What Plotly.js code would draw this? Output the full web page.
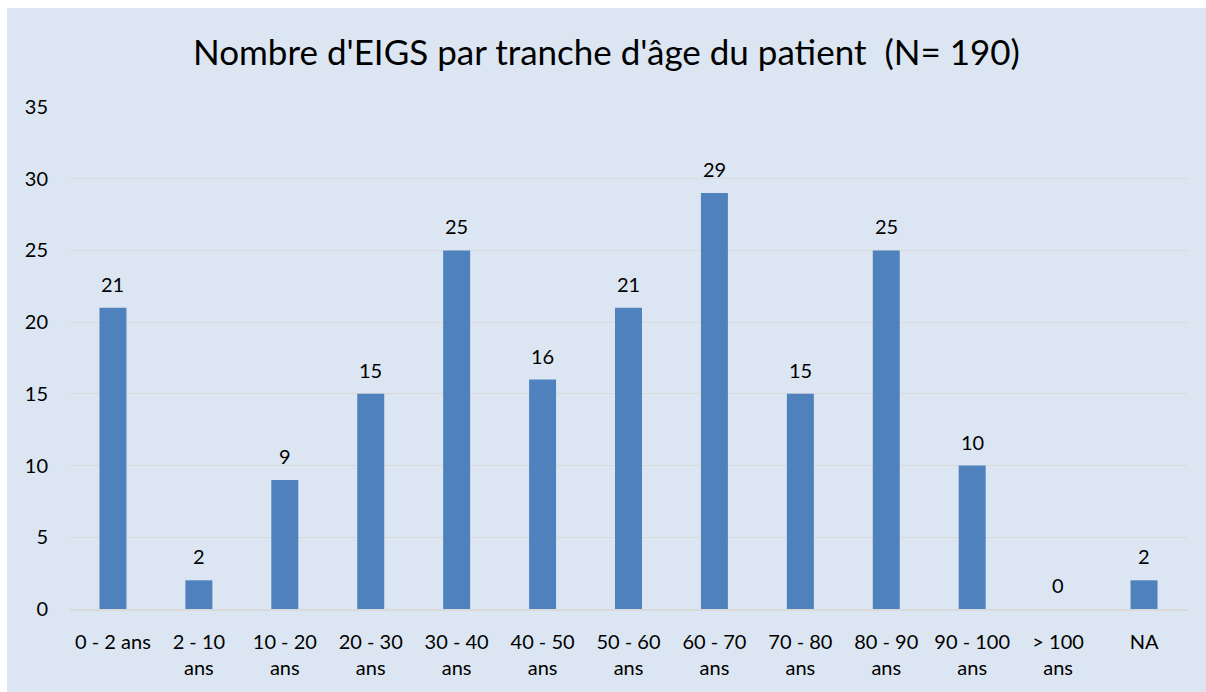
<!DOCTYPE html>
<html><head><meta charset="utf-8">
<script src="https://cdn.plot.ly/plotly-3.0.1.min.js"></script>
<style>
html,body{margin:0;padding:0;background:#fff;}
#chart{position:absolute;left:7px;top:8px;width:1199px;height:684px;}
</style></head>
<body><div id="chart"></div>
<script>
const categories = ["0 - 2 ans","2 - 10 ans","10 - 20 ans","20 - 30 ans","30 - 40 ans","40 - 50 ans","50 - 60 ans","60 - 70 ans","70 - 80 ans","80 - 90 ans","90 - 100 ans","> 100 ans","NA"];
const tickLabels = ["0 - 2 ans","2 - 10<br>ans","10 - 20<br>ans","20 - 30<br>ans","30 - 40<br>ans","40 - 50<br>ans","50 - 60<br>ans","60 - 70<br>ans","70 - 80<br>ans","80 - 90<br>ans","90 - 100<br>ans","> 100<br>ans","NA"];
const counts = [21,2,9,15,25,16,21,29,15,25,10,0,2];
const yTicks = [0,5,10,15,20,25,30,35];

const FONT = "Lato, 'Open Sans', sans-serif";
const trace = {
  type:'bar', x:categories, y:counts,
  marker:{color:'#4f81bd'},
  hoverinfo:'x+y'
};
const annotations = categories.map((c,i)=>({
  x:c, y:counts[i], xref:'x', yref:'y', text:String(counts[i]),
  showarrow:false, yshift:24, font:{family:FONT,size:20,color:'#000'}
}));
const layout = {
  width:1199, height:684,
  paper_bgcolor:'#dce6f2', plot_bgcolor:'#dce6f2',
  margin:{l:63,r:19,t:99,b:83},
  bargap:0.686,
  showlegend:false,
  title:{text:"Nombre d'EIGS par tranche d'âge du patient  (N= 190)", x:0.5, xanchor:'center', y:0.935, yanchor:'middle', font:{family:FONT,size:35,color:'#000'}},
  xaxis:{type:'category', tickvals:categories, ticktext:tickLabels, tickfont:{family:FONT,size:20,color:'#000'}, showgrid:false, showline:true, linecolor:'#d9d9d9', linewidth:2, ticks:'outside', ticklen:14, tickcolor:'rgba(0,0,0,0)', zeroline:false},
  yaxis:{range:[0,35], tickvals:yTicks, tickfont:{family:FONT,size:20,color:'#000'}, showgrid:true, gridcolor:'#d9d9d9', gridwidth:1, zeroline:false, ticks:'outside', ticklen:17, tickcolor:'rgba(0,0,0,0)', fixedrange:true},
  annotations:annotations
};
Plotly.newPlot('chart',[trace],layout,{displayModeBar:false,staticPlot:true});
</script></body></html>
